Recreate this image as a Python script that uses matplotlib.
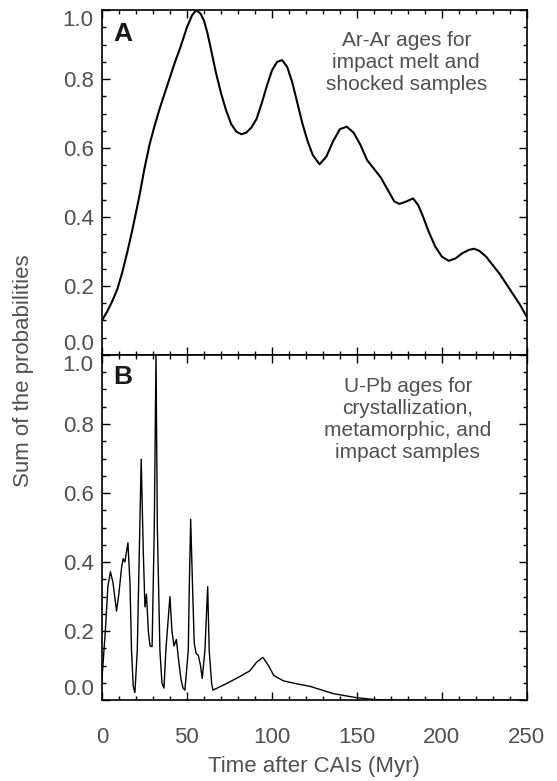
import matplotlib
matplotlib.use("Agg")
import matplotlib.pyplot as plt
from matplotlib.ticker import MultipleLocator

# panel A: Ar-Ar ages
ar_time = [0, 3, 6, 9, 12, 15, 18, 22, 25, 28, 31, 34, 37, 40, 43, 46, 50, 53,
           55.5, 58, 60, 62, 64, 67, 70, 73, 76, 79, 82, 85, 88, 91, 94, 97, 100,
           103, 106, 109, 112, 115, 118, 121, 124, 128, 132, 136, 140, 144, 148,
           152, 156, 160, 164, 168, 172, 175, 179, 183, 186, 189, 192, 196, 200,
           204, 208, 212, 216, 219, 222, 226, 230, 234, 238, 242, 246, 250]
ar_prob = [0.10, 0.125, 0.155, 0.19, 0.24, 0.30, 0.365, 0.46, 0.54, 0.61, 0.665,
           0.715, 0.76, 0.805, 0.85, 0.89, 0.95, 0.985, 1.0, 0.99, 0.97, 0.935,
           0.89, 0.82, 0.76, 0.71, 0.67, 0.648, 0.64, 0.645, 0.66, 0.685, 0.73,
           0.78, 0.825, 0.85, 0.855, 0.835, 0.79, 0.73, 0.67, 0.62, 0.58, 0.553,
           0.575, 0.62, 0.655, 0.662, 0.645, 0.61, 0.565, 0.54, 0.515, 0.48,
           0.445, 0.438, 0.445, 0.454, 0.435, 0.40, 0.36, 0.315, 0.285, 0.273,
           0.28, 0.295, 0.305, 0.308, 0.302, 0.285, 0.26, 0.235, 0.205, 0.175,
           0.145, 0.11]

# panel B: U-Pb ages
upb_time = [0, 2, 3.5, 5, 6.5, 8.6, 10, 11.6, 12.5, 13.5, 15.3, 16.5, 17.4, 18.4,
            19.4, 20.8, 22, 23.1, 24.3, 25.3, 26.2, 27.3, 28.3, 29.5, 30.8, 31.8,
            32.6, 34.1, 35.3, 36.5, 37.6, 40.0, 41.2, 42.4, 43.8, 45.0, 46.5, 47.7,
            48.8, 50.8, 51.4, 52.2, 53.3, 54.3, 55.4, 56.7, 58.0, 59.0, 60.6, 62.2,
            63.1, 64.5, 65.3, 72.4, 81, 87, 91, 94.7, 98, 101, 106.7, 114, 122.4,
            136, 150, 160, 170, 180, 250]
upb_prob = [0.06, 0.2, 0.33, 0.372, 0.34, 0.258, 0.31, 0.386, 0.41, 0.40, 0.456,
            0.338, 0.145, 0.04, 0.022, 0.145, 0.435, 0.698, 0.435, 0.27, 0.307,
            0.20, 0.157, 0.155, 0.5, 1.0, 0.5, 0.145, 0.05, 0.035, 0.145, 0.30,
            0.20, 0.157, 0.176, 0.12, 0.06, 0.035, 0.029, 0.145, 0.33, 0.524, 0.33,
            0.165, 0.135, 0.13, 0.10, 0.063, 0.145, 0.329, 0.145, 0.05, 0.029,
            0.046, 0.068, 0.085, 0.11, 0.124, 0.10, 0.072, 0.056, 0.048, 0.04,
            0.019, 0.007, 0.002, 0.0, 0.0, 0.0]

grey = "#505050"
plt.rcParams["font.family"] = ["Liberation Sans", "DejaVu Sans"]

fig = plt.figure(figsize=(5.57, 7.81), dpi=100)
axA = fig.add_axes([0.183, 0.5455, 0.763, 0.4415])
axB = fig.add_axes([0.183, 0.1035, 0.763, 0.442])

axA.plot(ar_time, ar_prob, color="black", lw=1.5)
axB.plot(upb_time, upb_prob, color="black", lw=1.0)

for ax in (axA, axB):
    ax.set_xlim(0, 250)
    ax.set_ylim(0, 1.0)
    ax.xaxis.set_major_locator(MultipleLocator(50))
    ax.xaxis.set_minor_locator(MultipleLocator(10))
    ax.yaxis.set_major_locator(MultipleLocator(0.2))
    ax.yaxis.set_minor_locator(MultipleLocator(0.05))
    ax.tick_params(which="both", direction="in", top=True, right=True,
                   width=1.0, colors="black", labelcolor=grey, labelsize=16)
    ax.tick_params(which="major", length=6)
    ax.tick_params(which="minor", length=3)
    ax.tick_params(axis="y", pad=6)
    ax.tick_params(axis="x", pad=19)
    for s in ax.spines.values():
        s.set_linewidth(1.2)
    ax.set_yticks([0, 0.2, 0.4, 0.6, 0.8, 1.0])
    ax.set_yticklabels(["0.0", "0.2", "0.4", "0.6", "0.8", "1.0"])
    labs = ax.get_yticklabels()
    labs[0].set_va("bottom")
    labs[-1].set_va("top")

axA.tick_params(axis="x", labelbottom=False)

axA.text(7, 0.965, "A", fontsize=19, fontweight="bold", color="#1a1a1a",
         va="top", ha="left")
axB.text(6.5, 0.97, "B", fontsize=19, fontweight="bold", color="#1a1a1a",
         va="top", ha="left")

axA.text(179, 0.847, "Ar-Ar ages for\nimpact melt and\nshocked samples",
         ha="center", va="center", fontsize=15, color=grey, linespacing=1.2)
axB.text(180, 0.813, "U-Pb ages for\ncrystallization,\nmetamorphic, and\nimpact samples",
         ha="center", va="center", fontsize=15, color=grey, linespacing=1.2)

axB.set_xlabel("Time after CAIs (Myr)", fontsize=16, color=grey, labelpad=6)
fig.text(0.043, 0.526, "Sum of the probabilities", rotation=90, fontsize=16,
         color=grey, ha="center", va="center")

fig.savefig("out.png", dpi=100)
